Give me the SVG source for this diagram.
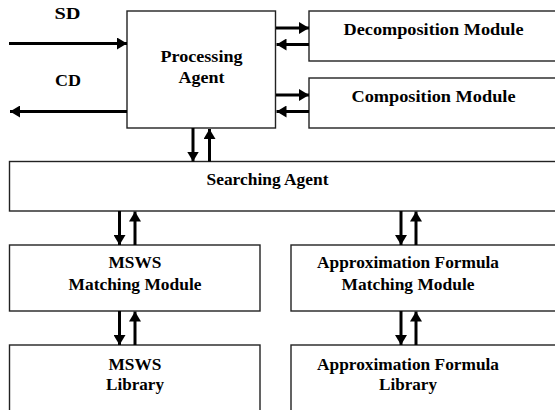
<svg xmlns="http://www.w3.org/2000/svg" width="555" height="410" viewBox="0 0 555 410">
  <defs>
    <marker id="head" viewBox="0 0 10 12" refX="10" refY="6" markerWidth="10" markerHeight="12" markerUnits="userSpaceOnUse" orient="auto">
      <path d="M0,0 L10,6 L0,12 Z" fill="#000"/>
    </marker>
    <style>
      .box { fill: #fff; stroke: #222; stroke-width: 1.4; }
      .lbl { font-family: "Liberation Serif", "Times New Roman", serif; font-weight: bold; font-size: 17.5px; text-anchor: middle; fill: #000; }
      .arr { stroke: #000; stroke-width: 3; fill: none; marker-end: url(#head); }
    </style>
  </defs>
  <rect width="555" height="410" fill="#fff"/>

  <g id="processing-agent">
    <rect class="box" x="127" y="11" width="148.5" height="117"/>
    <text class="lbl" x="201.5" y="61.5" textLength="82" lengthAdjust="spacingAndGlyphs">Processing</text>
    <text class="lbl" x="201.5" y="82.5" textLength="46" lengthAdjust="spacingAndGlyphs">Agent</text>
  </g>

  <g id="decomposition-module">
    <rect class="box" x="309" y="11" width="260" height="50"/>
    <text class="lbl" x="433.5" y="35" textLength="180" lengthAdjust="spacingAndGlyphs">Decomposition Module</text>
  </g>

  <g id="composition-module">
    <rect class="box" x="309" y="78" width="260" height="50"/>
    <text class="lbl" x="433.5" y="102" textLength="164" lengthAdjust="spacingAndGlyphs">Composition Module</text>
  </g>

  <g id="searching-agent">
    <rect class="box" x="9.5" y="161.5" width="560" height="49.5"/>
    <text class="lbl" x="267.5" y="185" textLength="122" lengthAdjust="spacingAndGlyphs">Searching Agent</text>
  </g>

  <g id="msws-matching-module">
    <rect class="box" x="9.5" y="245" width="250.5" height="66"/>
    <text class="lbl" x="135" y="268" textLength="53" lengthAdjust="spacingAndGlyphs">MSWS</text>
    <text class="lbl" x="135" y="290" textLength="133" lengthAdjust="spacingAndGlyphs">Matching Module</text>
  </g>

  <g id="approx-matching-module">
    <rect class="box" x="291" y="245" width="280" height="66"/>
    <text class="lbl" x="408" y="268" textLength="182" lengthAdjust="spacingAndGlyphs">Approximation Formula</text>
    <text class="lbl" x="408" y="290" textLength="133" lengthAdjust="spacingAndGlyphs">Matching Module</text>
  </g>

  <g id="msws-library">
    <rect class="box" x="9.5" y="345" width="250.5" height="80"/>
    <text class="lbl" x="135" y="370" textLength="53" lengthAdjust="spacingAndGlyphs">MSWS</text>
    <text class="lbl" x="135" y="390" textLength="58" lengthAdjust="spacingAndGlyphs">Library</text>
  </g>

  <g id="approx-library">
    <rect class="box" x="291" y="345" width="280" height="80"/>
    <text class="lbl" x="408" y="370" textLength="182" lengthAdjust="spacingAndGlyphs">Approximation Formula</text>
    <text class="lbl" x="408" y="390" textLength="58" lengthAdjust="spacingAndGlyphs">Library</text>
  </g>

  <g id="inputs">
    <text class="lbl" x="67.5" y="18.5" textLength="26" lengthAdjust="spacingAndGlyphs">SD</text>
    <text class="lbl" x="68" y="86" textLength="26" lengthAdjust="spacingAndGlyphs">CD</text>
  </g>

  <g id="connectors">
    <line class="arr" x1="9" y1="43.5" x2="127" y2="43.5"/>
    <line class="arr" x1="127" y1="111.5" x2="10" y2="111.5"/>

    <line class="arr" x1="276" y1="28" x2="309" y2="28"/>
    <line class="arr" x1="309" y1="44.5" x2="276.5" y2="44.5"/>
    <line class="arr" x1="276" y1="95" x2="309" y2="95"/>
    <line class="arr" x1="309" y1="111.5" x2="276.5" y2="111.5"/>

    <line class="arr" x1="193" y1="128" x2="193" y2="161.5"/>
    <line class="arr" x1="209.5" y1="161.5" x2="209.5" y2="129"/>

    <line class="arr" x1="119.5" y1="211" x2="119.5" y2="245"/>
    <line class="arr" x1="135" y1="245" x2="135" y2="211.5"/>
    <line class="arr" x1="401" y1="211" x2="401" y2="245"/>
    <line class="arr" x1="416" y1="245" x2="416" y2="211.5"/>

    <line class="arr" x1="119.5" y1="311" x2="119.5" y2="345"/>
    <line class="arr" x1="135" y1="345" x2="135" y2="311.5"/>
    <line class="arr" x1="401" y1="311" x2="401" y2="345"/>
    <line class="arr" x1="416" y1="345" x2="416" y2="311.5"/>
  </g>
</svg>
